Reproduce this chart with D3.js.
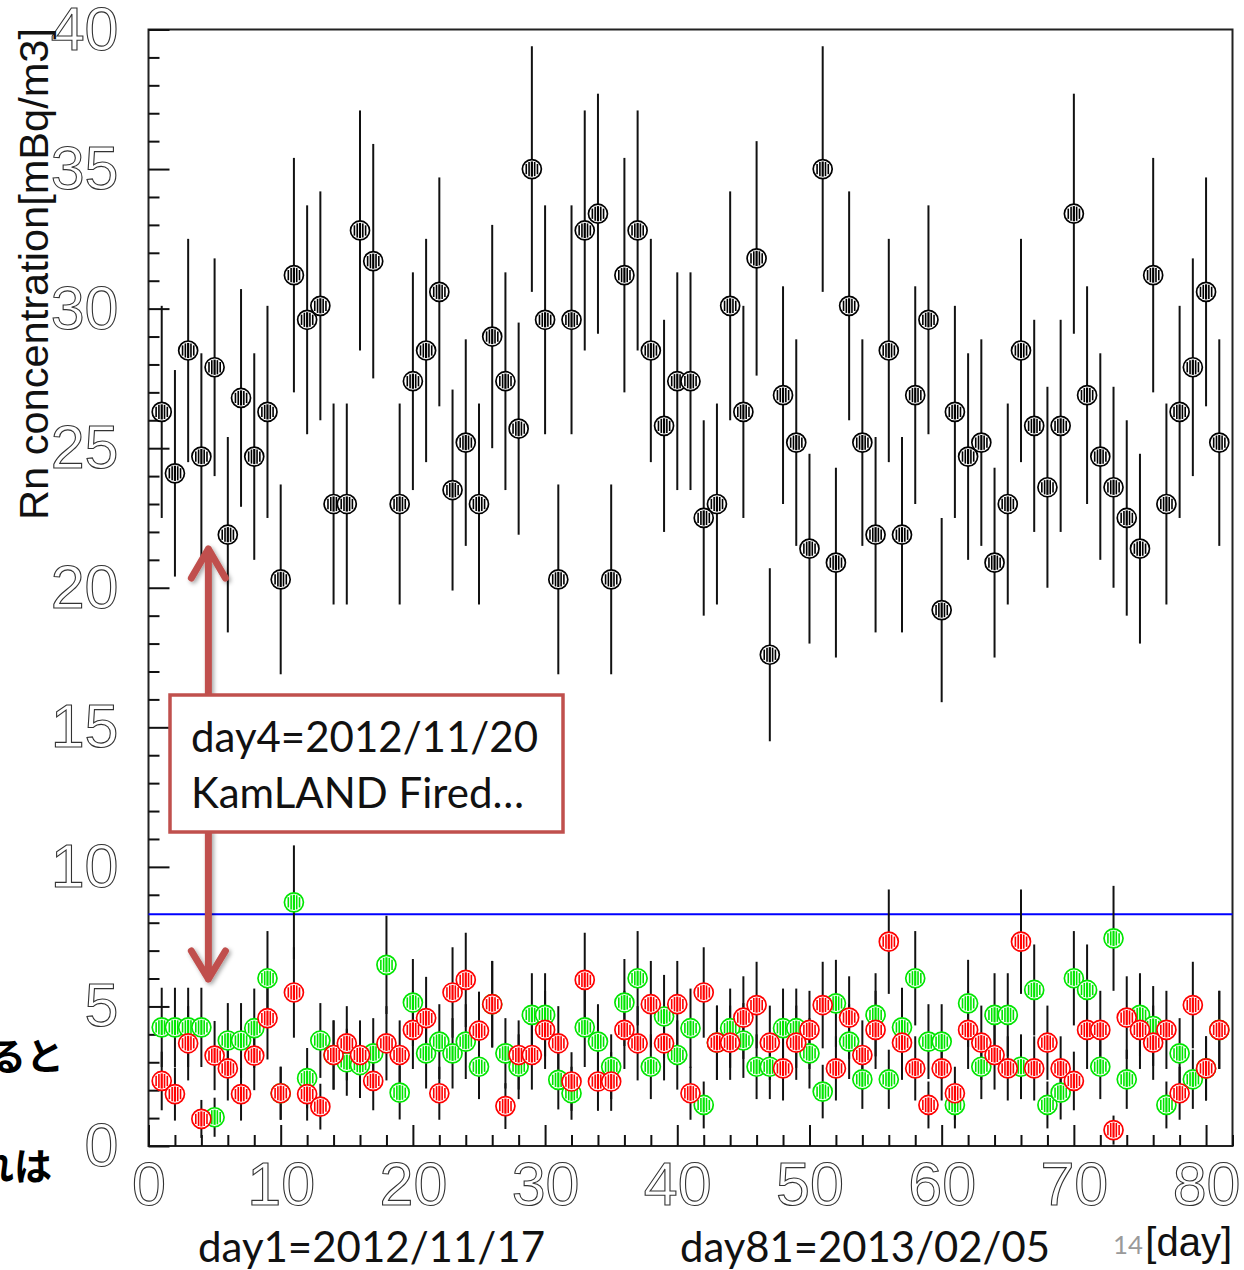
<!DOCTYPE html>
<html><head><meta charset="utf-8">
<script src="https://cdn.jsdelivr.net/npm/d3@7"></script>
<style>html,body{margin:0;padding:0;background:#fff;overflow:hidden}svg{display:block}</style>
</head><body>
<svg id="chart" width="1244" height="1270"></svg>
<script>
// ---------------- data ----------------
const days = [1,2,3,4,5,6,7,8,9,10,11,12,13,14,15,16,17,18,19,20,21,22,23,24,25,26,27,28,29,30,31,32,33,34,35,36,37,38,39,40,41,42,43,44,45,46,47,48,49,50,51,52,53,54,55,56,57,58,59,60,61,62,63,64,65,66,67,68,69,70,71,72,73,74,75,76,77,78,79,80,81];
const blackVals = [26.3,24.1,28.5,24.7,27.9,21.9,26.8,24.7,26.3,20.3, 31.2,29.6,30.1,23.0,23.0,32.8,31.7,null,23.0,27.4, 28.5,30.6,23.5,25.2,23.0,29.0,27.4,25.7,35.0,29.6, 20.3,29.6,32.8,33.4,20.3,31.2,32.8,28.5,25.8,27.4, 27.4,22.5,23.0,30.1,26.3,31.8,17.6,26.9,25.2,21.4, 35.0,20.9,30.1,25.2,21.9,28.5,21.9,26.9,29.6,19.2, 26.3,24.7,25.2,20.9,23.0,28.5,25.8,23.6,25.8,33.4, 26.9,24.7,23.6,22.5,21.4,31.2,23.0,26.3,27.9,30.6, 25.2];
const blackErr = [3.8,3.7,4.0,3.7,3.9,3.5,3.9,3.7,3.8,3.4, 4.2,4.1,4.1,3.6,3.6,4.3,4.2,null,3.6,3.9, 4.0,4.1,3.6,3.7,3.6,4.0,3.9,3.8,4.4,4.1, 3.4,4.1,4.3,4.3,3.4,4.2,4.3,4.0,3.8,3.9, 3.9,3.5,3.6,4.1,3.8,4.2,3.1,3.9,3.7,3.4, 4.4,3.4,4.1,3.7,3.5,4.0,3.5,3.9,4.1,3.3, 3.8,3.7,3.7,3.4,3.6,4.0,3.8,3.6,3.8,4.3, 3.9,3.7,3.6,3.5,3.4,4.2,3.6,3.8,3.9,4.1, 3.7];
const redVals = [2.33,1.86,3.68,0.97,3.24,2.78,1.86,3.24,4.58,1.89, 5.5,1.86,1.41,3.26,3.68,3.26,2.33,3.68,3.26,4.16, 4.58,1.89,5.5,5.95,4.13,5.08,1.43,3.26,3.26,4.16, 3.68,2.31,5.95,2.31,2.31,4.16,3.68,5.08,3.68,5.08, 1.89,5.5,3.7,3.7,4.6,5.05,3.7,2.78,3.7,4.16, 5.05,2.78,4.6,3.26,4.16,7.32,3.7,2.78,1.47,2.78, 1.89,4.16,3.7,3.26,2.78,7.32,2.78,3.7,2.78,2.33, 4.16,4.16,0.57,4.6,4.16,3.7,4.16,1.89,5.05,2.78, 4.16];
const redErr = [1.05,0.95,1.33,0.68,1.24,1.15,0.95,1.24,1.48,0.95, 1.62,0.95,0.82,1.24,1.33,1.24,1.05,1.33,1.24,1.40, 1.48,0.95,1.62,1.69,1.40,1.55,0.82,1.24,1.24,1.40, 1.33,1.05,1.69,1.05,1.05,1.40,1.33,1.55,1.33,1.55, 0.95,1.62,1.33,1.33,1.48,1.55,1.33,1.15,1.33,1.40, 1.55,1.15,1.48,1.24,1.40,1.87,1.33,1.15,0.84,1.15, 0.95,1.40,1.33,1.24,1.15,1.87,1.15,1.33,1.15,1.05, 1.40,1.40,0.52,1.48,1.40,1.33,1.40,0.95,1.55,1.15, 1.40];
const greenVals = [4.25,4.25,4.25,4.25,1.03,3.78,3.78,4.22,6.01,1.89, 8.73,2.43,3.78,3.26,3.0,2.9,3.32,6.49,1.91,5.14, 3.32,3.74,3.32,3.74,2.84,5.08,3.32,2.84,4.7,4.7, 2.37,1.89,4.25,3.74,2.84,5.14,6.01,2.84,4.64,3.26, 4.22,1.47,3.7,4.22,3.78,2.84,2.84,4.22,4.22,3.32, 1.95,5.11,3.74,2.39,4.7,2.39,4.25,6.01,3.74,3.74, 1.47,5.11,2.84,4.7,4.7,2.84,5.59,1.47,1.91,6.01, 5.59,2.84,7.44,2.39,4.7,4.3,1.47,3.32,2.39,2.78, 4.16];
const greenErr = [1.42,1.42,1.42,1.42,0.70,1.34,1.34,1.42,1.69,0.95, 2.04,1.08,1.34,1.24,1.20,1.18,1.26,1.76,0.96,1.56, 1.26,1.34,1.26,1.34,1.16,1.55,1.26,1.16,1.49,1.49, 1.06,0.95,1.42,1.34,1.16,1.56,1.69,1.16,1.49,1.24, 1.42,0.84,1.33,1.42,1.34,1.16,1.16,1.42,1.42,1.26, 0.96,1.56,1.34,1.06,1.49,1.06,1.42,1.69,1.34,1.34, 0.84,1.56,1.16,1.49,1.49,1.16,1.63,0.84,0.96,1.69, 1.63,1.16,1.88,1.06,1.49,1.43,0.84,1.26,1.06,1.15, 1.40];
const thresholdValue = 8.3;
const xTickLabels = [0,10,20,30,40,50,60,70,80];
const yTickLabels = [0,5,10,15,20,25,30,35,40];
const yTitle = "Rn concentration[mBq/m3]";
const xTitle = "[day]";
const noteLines = ["day4=2012/11/20", "KamLAND Fired…"];
const arrowDay = 4;
const footLeft = "day1=2012/11/17";
const footRight = "day81=2013/02/05";
const pageNo = "14";
const slideFragments = ["ると", "れは"];

// ---------------- chart ----------------
const svg = d3.select("#chart");
const L = 148.5, R = 1232.5, T = 29.5, B = 1146;
const x = d3.scaleLinear().domain([0, 82]).range([L, R]);
const y = d3.scaleLinear().domain([0, 40]).range([B, T]);

const defs = svg.append("defs");
const f = defs.append("filter").attr("id","shadow").attr("x","-50%").attr("y","-50%").attr("width","200%").attr("height","200%");
f.append("feDropShadow").attr("dx",2).attr("dy",2).attr("stdDeviation",2).attr("flood-color","#000").attr("flood-opacity",0.35);

// background slide fragments (cut off at left edge, as in the source slide)
svg.append("text").attr("x", 64).attr("y", 1070).attr("text-anchor","end")
  .style("font-family","'Noto Sans CJK JP'").style("font-weight","bold").style("font-size","38px").text(slideFragments[0]);
svg.append("text").attr("x", 52).attr("y", 1180).attr("text-anchor","end")
  .style("font-family","'Noto Sans CJK JP'").style("font-weight","bold").style("font-size","38px").text(slideFragments[1]);

// frame
svg.append("rect").attr("x", L).attr("y", T).attr("width", R - L).attr("height", B - T)
  .attr("fill","none").attr("stroke","#222").attr("stroke-width",2);

// y axis ticks (inward)
const yMajor = yTickLabels;
const yMinor = d3.range(0, 41).filter(v => v % 5 !== 0);
svg.append("g").attr("transform",`translate(${L},0)`)
  .call(d3.axisRight(y).tickValues(yMajor).tickSize(21).tickFormat(""))
  .call(g => g.select(".domain").remove())
  .selectAll("line").attr("stroke","#111").attr("stroke-width",2);
svg.append("g").attr("transform",`translate(${L},0)`)
  .call(d3.axisRight(y).tickValues(yMinor).tickSize(11).tickFormat(""))
  .call(g => g.select(".domain").remove())
  .selectAll("line").attr("stroke","#111").attr("stroke-width",2);
// y labels
svg.append("g").attr("transform",`translate(${L},0)`)
  .call(d3.axisLeft(y).tickValues(yMajor).tickSize(0).tickPadding(30).tickFormat(d3.format("d")))
  .call(g => g.select(".domain").remove())
  .selectAll("text")
  .style("font-family","'Liberation Sans', Arial, sans-serif").style("font-size","61px")
  .attr("fill","#fff").attr("stroke","#333").attr("stroke-width",1.1);

// x axis ticks (inward)
const xMajor = xTickLabels;
const xMinor = d3.range(0, 83, 2).filter(v => v % 10 !== 0);
svg.append("g").attr("transform",`translate(0,${B})`)
  .call(d3.axisTop(x).tickValues(xMajor).tickSize(21).tickFormat(""))
  .call(g => g.select(".domain").remove())
  .selectAll("line").attr("stroke","#111").attr("stroke-width",2);
svg.append("g").attr("transform",`translate(0,${B})`)
  .call(d3.axisTop(x).tickValues(xMinor).tickSize(11).tickFormat(""))
  .call(g => g.select(".domain").remove())
  .selectAll("line").attr("stroke","#111").attr("stroke-width",2);
svg.append("g").attr("transform",`translate(0,${B})`)
  .call(d3.axisBottom(x).tickValues(xMajor).tickSize(0).tickPadding(16).tickFormat(d3.format("d")))
  .call(g => g.select(".domain").remove())
  .selectAll("text")
  .style("font-family","'Liberation Sans', Arial, sans-serif").style("font-size","61px")
  .attr("fill","#fff").attr("stroke","#333").attr("stroke-width",1.1);

// titles
svg.append("text").attr("transform","translate(48,520) rotate(-90)")
  .attr("textLength",492).attr("lengthAdjust","spacingAndGlyphs")
  .style("font-family","'Liberation Sans', Arial, sans-serif").style("font-size","40px").attr("fill","#111")
  .text(yTitle);
svg.append("text").attr("x",1232).attr("y",1256).attr("text-anchor","end")
  .style("font-family","'Liberation Sans', Arial, sans-serif").style("font-size","40px").attr("fill","#111")
  .text(xTitle);

// threshold line
svg.append("line").attr("x1",L).attr("x2",R).attr("y1",y(thresholdValue)).attr("y2",y(thresholdValue))
  .attr("stroke","#0000ff").attr("stroke-width",2);

// series
const mk = (vals, errs) => days.map((d,i)=>({d, v: vals[i], e: errs[i]})).filter(p => p.v !== null);
const series = [
  {name:"black", color:"#000000", pts: mk(blackVals, blackErr)},
  {name:"green", color:"#00e600", pts: mk(greenVals, greenErr)},
  {name:"red", color:"#ff0000", pts: mk(redVals, redErr)}
];
const barsG = svg.append("g");
series.forEach(s => {
  barsG.selectAll(null).data(s.pts).join("line")
    .attr("x1", p => x(p.d)).attr("x2", p => x(p.d))
    .attr("y1", p => y(Math.min(40, p.v + p.e))).attr("y2", p => y(Math.max(0, p.v - p.e)))
    .attr("stroke","#111").attr("stroke-width",2);
});
const stripes = [-5.6, -2.8, 0, 2.8, 5.6];
const rIn = 7.6;
series.forEach(s => {
  const g = svg.append("g").selectAll("g").data(s.pts).join("g")
    .attr("transform", p => `translate(${x(p.d)},${y(p.v)})`);
  g.append("circle").attr("r", 9.5).attr("fill","#fff").attr("stroke", s.color).attr("stroke-width",1.7);
  stripes.forEach(dx => {
    const h = Math.sqrt(rIn*rIn - dx*dx);
    g.append("line").attr("x1",dx).attr("x2",dx).attr("y1",-h).attr("y2",h)
      .attr("stroke", s.color).attr("stroke-width", dx === 0 ? 2.2 : 1.6);
  });
});

// annotation arrows + box
const ac = "#c0504d";
const ax = x(arrowDay) + 7;
const ann = svg.append("g").attr("filter","url(#shadow)");
ann.append("path").attr("d", `M${ax},695 L${ax},549 M${ax-17},578 L${ax},549 L${ax+17},578`)
  .attr("fill","none").attr("stroke",ac).attr("stroke-width",7).attr("stroke-linecap","round").attr("stroke-linejoin","round");
ann.append("path").attr("d", `M${ax},832 L${ax},979 M${ax-17},951 L${ax},979 L${ax+17},951`)
  .attr("fill","none").attr("stroke",ac).attr("stroke-width",7).attr("stroke-linecap","round").attr("stroke-linejoin","round");
svg.append("rect").attr("x",170).attr("y",695).attr("width",393).attr("height",137)
  .attr("fill","#fff").attr("stroke",ac).attr("stroke-width",3.5);
svg.append("text").attr("x",191).attr("y",752).attr("textLength",347).attr("lengthAdjust","spacingAndGlyphs")
  .style("font-family","Lato, 'Open Sans', sans-serif").style("font-size","42px").attr("fill","#111").text(noteLines[0]);
svg.append("text").attr("x",191).attr("y",808).attr("textLength",333).attr("lengthAdjust","spacingAndGlyphs")
  .style("font-family","Lato, 'Open Sans', sans-serif").style("font-size","42px").attr("fill","#111").text(noteLines[1]);

// footer texts
svg.append("text").attr("x",198).attr("y",1262).attr("textLength",347).attr("lengthAdjust","spacingAndGlyphs")
  .style("font-family","Lato, 'Open Sans', sans-serif").style("font-size","42px").attr("fill","#111").text(footLeft);
svg.append("text").attr("x",680).attr("y",1262).attr("textLength",370).attr("lengthAdjust","spacingAndGlyphs")
  .style("font-family","Lato, 'Open Sans', sans-serif").style("font-size","42px").attr("fill","#111").text(footRight);
svg.append("text").attr("x",1113).attr("y",1254).attr("textLength",30).attr("lengthAdjust","spacingAndGlyphs")
  .style("font-family","Lato, 'Open Sans', sans-serif").style("font-size","25px").attr("fill","#9a9a9a").text(pageNo);
</script>
</body></html>
